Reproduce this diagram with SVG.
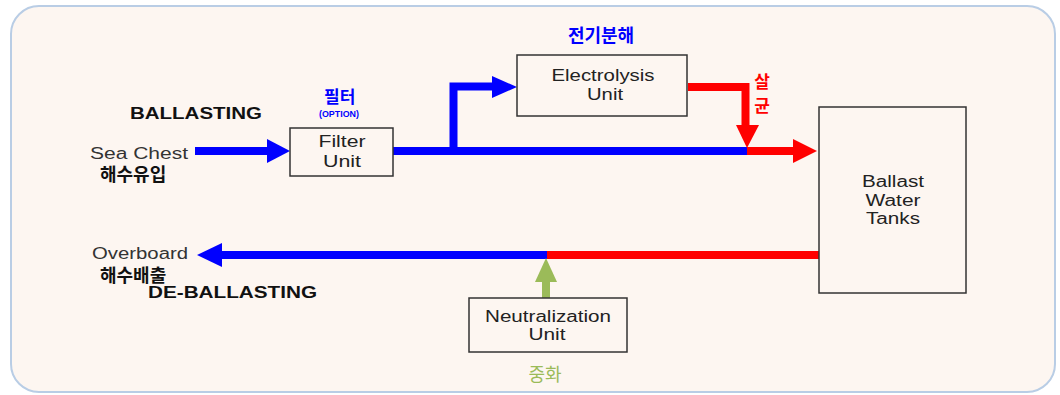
<svg xmlns="http://www.w3.org/2000/svg" width="1060" height="395" viewBox="0 0 1060 395">
<style>
.bg{fill:#fdf6f1;stroke:#b9cde5;stroke-width:2}
.box{fill:none;stroke:#333;stroke-width:1.5}
.t{font-family:"Liberation Sans",Arial,sans-serif;font-size:16px;fill:#222;text-anchor:middle}
.tl{font-family:"Liberation Sans",Arial,sans-serif;font-size:16px;fill:#333}
.b{font-family:"Liberation Sans",Arial,sans-serif;font-weight:bold;font-size:16px;fill:#111}
.k{font-family:"Noto Sans CJK KR",sans-serif;font-weight:bold;font-size:18px}
.blue{stroke:#0000ff;fill:none;stroke-width:8}
.red{stroke:#ff0000;fill:none;stroke-width:8}
.green{stroke:#9bbb59;fill:none;stroke-width:8}
.hb{fill:#0000ff}
.hr{fill:#ff0000}
.hg{fill:#9bbb59}
</style>
<rect class="bg" x="11" y="6" width="1044" height="386" rx="28"/>

<g id="connectors">
  <line class="blue" x1="195" y1="151" x2="268" y2="151"/>
  <polygon class="hb" points="267,139 290,151 267,163"/>
  <line class="blue" x1="393" y1="151" x2="748" y2="151"/>
  <line class="red" x1="747" y1="151" x2="796" y2="151"/>
  <polygon class="hr" points="793,139 817,151 793,163"/>
  <polyline class="blue" points="453.5,151 453.5,86.5 495,86.5"/>
  <polygon class="hb" points="492,76 517,87 492,98"/>
  <polyline class="red" points="688,87 745.5,87 745.5,127"/>
  <polygon class="hr" points="736,125 759,125 747,148"/>
  <line class="red" x1="819" y1="255" x2="546" y2="255"/>
  <line class="blue" x1="547" y1="255" x2="220" y2="255"/>
  <polygon class="hb" points="222,243 197,255 222,267"/>
  <line class="green" x1="546" y1="298" x2="546" y2="280"/>
  <polygon class="hg" points="535,282 557,282 546,258"/>
</g>

<g id="labels">
  <text class="b" x="130" y="119" textLength="132" lengthAdjust="spacingAndGlyphs">BALLASTING</text>
  <text class="tl" x="90" y="159" textLength="98" lengthAdjust="spacingAndGlyphs">Sea Chest</text>
  <text class="k" x="100" y="181" fill="#111">해수유입</text>
  <text class="tl" x="92" y="259" textLength="96" lengthAdjust="spacingAndGlyphs">Overboard</text>
  <text class="k" x="100" y="282" fill="#111">해수배출</text>
  <text class="b" x="148" y="298" textLength="169" lengthAdjust="spacingAndGlyphs">DE-BALLASTING</text>
  <text class="k" x="324" y="103" fill="#0000ff" style="font-size:17px">필터</text>
  <text x="339" y="117" fill="#0000ff" textLength="40" lengthAdjust="spacingAndGlyphs" style="font-family:'Liberation Sans',Arial,sans-serif;font-weight:bold;font-size:9px;text-anchor:middle">(OPTION)</text>
  <text class="k" x="601" y="42" fill="#0000ff" text-anchor="middle">전기분해</text>
  <text class="k" x="762" y="88" fill="#ff0000" text-anchor="middle" style="font-size:17px">살</text>
  <text class="k" x="762" y="112" fill="#ff0000" text-anchor="middle" style="font-size:17px">균</text>
  <text class="k" x="545" y="381" fill="#9bbb59" text-anchor="middle" style="font-weight:normal">중화</text>
</g>

<g id="filter">
  <rect class="box" x="290" y="128" width="103" height="48"/>
  <text class="t" x="342" y="147" textLength="47" lengthAdjust="spacingAndGlyphs">Filter</text>
  <text class="t" x="342" y="167" textLength="38" lengthAdjust="spacingAndGlyphs">Unit</text>
</g>

<g id="electrolysis">
  <rect class="box" x="517" y="55" width="170" height="61"/>
  <text class="t" x="603" y="81" textLength="103" lengthAdjust="spacingAndGlyphs">Electrolysis</text>
  <text class="t" x="605" y="100" textLength="36" lengthAdjust="spacingAndGlyphs">Unit</text>
</g>

<g id="tanks">
  <rect class="box" x="819" y="107" width="147" height="186"/>
  <text class="t" x="893" y="187" textLength="62" lengthAdjust="spacingAndGlyphs">Ballast</text>
  <text class="t" x="893" y="206" textLength="55" lengthAdjust="spacingAndGlyphs">Water</text>
  <text class="t" x="893" y="224" textLength="54" lengthAdjust="spacingAndGlyphs">Tanks</text>
</g>

<g id="neutralization">
  <rect class="box" x="469" y="298" width="158" height="54"/>
  <text class="t" x="548" y="322" textLength="126" lengthAdjust="spacingAndGlyphs">Neutralization</text>
  <text class="t" x="547" y="340" textLength="37" lengthAdjust="spacingAndGlyphs">Unit</text>
</g>
</svg>
